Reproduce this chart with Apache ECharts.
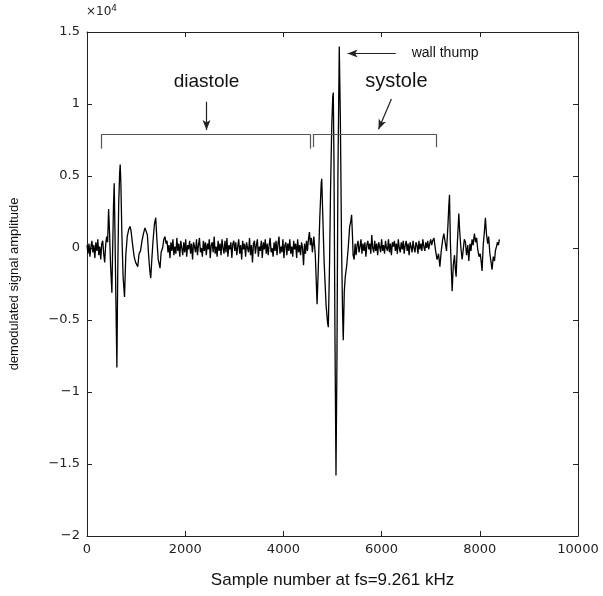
<!DOCTYPE html>
<html>
<head>
<meta charset="utf-8">
<script src="https://cdn.jsdelivr.net/npm/echarts@6/dist/echarts.min.js"></script>
<style>
  html, body { margin: 0; padding: 0; background: #fff; }
  #main { width: 603px; height: 596px; }
</style>
</head>
<body>
<div id="main"></div>
<script>
// amplitude is in units of 10^4, as on the axis
// onset noise + diastolic burst
const diaBurstSamples = [
  0, 20, 40, 60, 80, 100, 120, 140, 160, 180, 200, 220, 240, 260, 280, 300, 320, 340, 360, 380, 400,
  420, 440, 460, 480, 507, 520, 540, 554, 570, 590, 609, 625, 645, 665, 676, 690, 710, 735, 764, 790, 820, 850, 879,
  900, 930, 960, 990, 1034, 1060, 1090, 1120, 1150, 1180, 1203, 1230, 1255, 1280, 1298, 1320, 1345, 1375, 1400, 1425,
  1450, 1470, 1487, 1510, 1540, 1565, 1588, 1610
];
const diaBurstAmp = [
  0.02, -0.04, 0.03, -0.06, 0.01, 0.05, -0.03, 0.02, -0.07, 0.04, -0.02, 0.06, -0.05, 0.01, -0.08, 0.03, 0.05, -0.04, -0.10, 0.02, 0.08,
  0.04, 0.27, 0.10, -0.12, -0.31, -0.05, 0.30, 0.45, 0.10, -0.40, -0.83, -0.20, 0.30, 0.52, 0.58, 0.45, 0.10, -0.20, -0.34, -0.05, 0.08, 0.13, 0.15,
  0.11, 0.02, -0.06, -0.10, -0.13, -0.04, -0.02, 0.05, 0.10, 0.14, 0.15, 0.09, -0.05, -0.16, -0.21, -0.08, 0.05, 0.17, 0.21, 0.05,
  -0.08, -0.11, -0.14, -0.03, 0.00, 0.06, 0.08, 0.03
];

// quiet stretch during diastole
const diaQuietSamples = [
  1630, 1650, 1670, 1690, 1710, 1730, 1750, 1770, 1790, 1810,
  1830, 1850, 1870, 1890, 1910, 1930, 1950, 1970, 1990, 2010,
  2030, 2050, 2070, 2090, 2110, 2130, 2150, 2170, 2190, 2210,
  2230, 2250, 2270, 2290, 2310, 2330, 2350, 2370, 2390, 2410,
  2430, 2450, 2470, 2490, 2510, 2530, 2550, 2570, 2590, 2610,
  2630, 2650, 2670, 2690, 2710, 2730, 2750, 2770, 2790, 2810,
  2830, 2850, 2870, 2890, 2910, 2930, 2950, 2970, 2990, 3010,
  3030, 3050, 3070, 3090, 3110, 3130, 3150, 3170, 3190, 3210,
  3230, 3250, 3270, 3290, 3310, 3330, 3350, 3370, 3390, 3410,
  3430, 3450, 3470, 3490, 3510, 3530, 3550, 3570, 3590, 3610,
  3630, 3650, 3670, 3690, 3710, 3730, 3750, 3770, 3790, 3810,
  3830, 3850, 3870, 3890, 3910, 3930, 3950, 3970, 3990, 4010,
  4030, 4050, 4070, 4090, 4110, 4130, 4150, 4170, 4190, 4210,
  4230, 4250, 4270, 4290, 4310, 4330, 4350, 4370, 4390, 4410,
  4430, 4450, 4470, 4490, 4510, 4530, 4550, 4570, 4590
];
const diaQuietAmp = [
  0.05, -0.03, 0.02, -0.07, 0.04, -0.02, 0.06, -0.05, 0.01, -0.04,
  0.07, -0.02, 0.03, -0.06, 0.05, 0.00, -0.05, 0.04, -0.03, 0.06,
  -0.06, 0.02, -0.01, 0.05, -0.04, 0.03, -0.08, 0.04, 0.01, -0.03,
  0.06, -0.05, 0.02, 0.07, -0.03, 0.00, -0.06, 0.05, -0.02, 0.04,
  -0.05, 0.03, -0.01, 0.06, -0.07, 0.02, 0.04, -0.03, 0.08, -0.04,
  0.01, -0.06, 0.05, -0.02, 0.03, -0.05, 0.06, 0.00, -0.04, 0.05,
  -0.03, 0.07, -0.06, 0.02, -0.01, 0.04, -0.07, 0.03, 0.05, -0.02,
  0.04, -0.05, 0.01, 0.06, -0.04, 0.02, -0.08, 0.05, -0.01, 0.03,
  -0.06, 0.04, 0.00, -0.03, 0.07, -0.05, 0.02, -0.10, 0.03, 0.05,
  -0.04, 0.02, 0.06, -0.06, 0.01, -0.02, 0.05, -0.07, 0.04, -0.01,
  0.06, -0.04, 0.03, -0.05, 0.02, 0.07, -0.03, 0.00, -0.06, 0.04,
  -0.02, 0.05, -0.05, 0.03, 0.08, -0.04, 0.01, -0.03, 0.06, -0.07,
  0.02, 0.04, -0.05, 0.03, -0.02, 0.06, -0.04, 0.01, -0.06, 0.05,
  -0.01, 0.03, -0.07, 0.06, -0.03, 0.02, -0.05, 0.04, 0.00, -0.12,
  0.03, -0.04, 0.05, -0.02, 0.06, 0.11, 0.02, 0.07, -0.03
];

// systolic burst with the wall thump
const sysBurstSamples = [
  4620, 4650, 4686, 4710, 4740, 4770, 4781, 4800, 4830, 4870, 4900, 4915, 4940, 4960, 4985, 5005, 5016, 5030, 5050,
  5071, 5090, 5110, 5138, 5160, 5185, 5205, 5219, 5240, 5260, 5290, 5320, 5350, 5370, 5389, 5405, 5420, 5440
];
const sysBurstAmp = [
  0.08, -0.05, -0.39, -0.15, 0.20, 0.45, 0.48, 0.25, -0.10, -0.40, -0.52, -0.55, -0.10, 0.40, 0.85, 1.05, 1.08, 0.60, -0.60,
  -1.58, -0.80, 0.50, 1.40, 0.90, 0.00, -0.45, -0.64, -0.30, -0.20, -0.12, 0.00, 0.15, 0.18, 0.23, 0.10, -0.05, -0.08
];

// quiet stretch during systole
const sysQuietSamples = [
  5460, 5480, 5500, 5520, 5540, 5560, 5580, 5600, 5620, 5640,
  5660, 5680, 5700, 5720, 5740, 5760, 5780, 5800, 5820, 5840,
  5860, 5880, 5900, 5920, 5940, 5960, 5980, 6000, 6020, 6040,
  6060, 6080, 6100, 6120, 6140, 6160, 6180, 6200, 6220, 6240,
  6260, 6280, 6300, 6320, 6340, 6360, 6380, 6400, 6420, 6440,
  6460, 6480, 6500, 6520, 6540, 6560, 6580, 6600, 6620, 6640,
  6660, 6680, 6700, 6720, 6740, 6760, 6780, 6800, 6820, 6840,
  6860, 6880, 6900, 6920, 6940, 6960, 6980, 7000, 7020, 7040
];
const sysQuietAmp = [
  0.03, -0.05, 0.02, 0.05, -0.03, 0.01, 0.06, -0.04, 0.03, -0.02,
  0.04, -0.06, 0.02, 0.05, -0.01, 0.03, -0.04, 0.09, 0.00, -0.03,
  0.05, -0.02, 0.03, -0.05, 0.04, 0.01, -0.03, 0.06, -0.02, 0.02,
  -0.04, 0.05, 0.00, -0.02, 0.06, -0.03, 0.03, -0.05, 0.04, 0.01,
  0.05, -0.02, 0.03, -0.04, 0.06, 0.00, -0.03, 0.04, -0.01, 0.05,
  -0.04, 0.02, 0.05, -0.02, 0.03, -0.05, 0.04, 0.01, -0.03, 0.05,
  0.00, -0.03, 0.04, 0.02, -0.04, 0.05, -0.01, 0.03, -0.02, 0.06,
  0.01, -0.02, 0.04, 0.00, 0.05, -0.01, 0.03, 0.06, 0.02, 0.05
];

// next beat, start of diastole
const nextBurstSamples = [
  7066, 7100, 7130, 7160, 7187, 7215, 7245, 7268, 7295, 7322, 7350, 7370, 7383, 7400, 7420, 7437, 7460, 7485, 7500, 7518,
  7545, 7573, 7590, 7615, 7640, 7660, 7685, 7708, 7730, 7755, 7776, 7800, 7820, 7843, 7865, 7890, 7915, 7935, 7958, 7985,
  8010, 8030, 8046, 8070, 8095, 8114, 8135, 8160, 8181, 8205, 8230, 8249, 8275, 8300, 8317, 8340, 8360, 8380, 8398
];
const nextBurstAmp = [
  0.07, -0.02, -0.08, -0.04, -0.13, -0.02, 0.06, 0.10, 0.04, -0.02, 0.15, 0.30, 0.37, 0.05, -0.15, -0.30, -0.12, -0.05, -0.14, -0.20,
  0.05, 0.24, 0.12, 0.00, -0.08, -0.02, 0.06, 0.04, -0.05, 0.02, -0.09, 0.03, -0.02, 0.06, 0.02, 0.10, 0.04, 0.07, -0.01, -0.06,
  -0.04, -0.10, -0.16, 0.02, 0.12, 0.21, 0.10, 0.03, 0.08, -0.04, -0.10, -0.15, -0.06, -0.09, -0.02, 0.01, 0.04, 0.02, 0.06
];

const sampleNo = [].concat(diaBurstSamples, diaQuietSamples, sysBurstSamples, sysQuietSamples, nextBurstSamples);
const amplitude = [].concat(diaBurstAmp, diaQuietAmp, sysBurstAmp, sysQuietAmp, nextBurstAmp);
const signal = sampleNo.map((s, i) => [s, amplitude[i]]);

const tickFont = { fontFamily: 'DejaVu Sans', fontSize: 13, color: '#222' };
const fmtY = v => String(v).replace('-', '\u2212');
const frame = { show: true, onZero: false, lineStyle: { color: '#222', width: 1 } };
const ticks = { show: true, inside: true, length: 5, lineStyle: { color: '#222' } };

const myChart = echarts.init(document.getElementById('main'));
myChart.setOption({
  animation: false,
  backgroundColor: '#fff',
  grid: { left: 85, right: 25, top: 32, bottom: 60 },
  graphic: [{
    type: 'text', left: 86, top: 4,
    style: {
      text: '\u00d710{s|4}',
      rich: { s: { fontSize: 9, verticalAlign: 'top', padding: [0, 0, 6, 0], fontFamily: 'DejaVu Sans', fill: '#222' } },
      fontFamily: 'DejaVu Sans', fontSize: 12, fill: '#222'
    }
  }],
  xAxis: [{
    type: 'value', min: 0, max: 10000, interval: 2000,
    name: 'Sample number at fs=9.261 kHz', nameLocation: 'middle', nameGap: 36,
    nameTextStyle: { fontFamily: 'Liberation Sans', fontSize: 17, color: '#111' },
    axisLine: frame, axisTick: ticks,
    axisLabel: Object.assign({ margin: 7, formatter: v => String(v) }, tickFont),
    splitLine: { show: false }
  }, {
    type: 'value', position: 'top', min: 0, max: 10000, interval: 2000,
    axisLine: frame, axisTick: ticks,
    axisLabel: { show: false }, splitLine: { show: false }
  }],
  yAxis: [{
    type: 'value', min: -2, max: 1.5, interval: 0.5,
    name: 'demodulated signal amplitude', nameLocation: 'middle', nameGap: 66, nameRotate: 90,
    nameTextStyle: { fontFamily: 'Liberation Sans', fontSize: 13, color: '#111' },
    axisLine: frame, axisTick: ticks,
    axisLabel: Object.assign({ margin: 7, formatter: fmtY }, tickFont),
    splitLine: { show: false }
  }, {
    type: 'value', position: 'right', min: -2, max: 1.5, interval: 0.5,
    axisLine: frame, axisTick: ticks,
    axisLabel: { show: false }, splitLine: { show: false }
  }],
  series: [{
    type: 'line',
    data: signal,
    showSymbol: false,
    lineStyle: { color: '#000', width: 1.3 },
    markLine: {
      silent: true,
      symbol: ['none', 'none'],
      label: { show: false },
      lineStyle: { color: '#555', width: 1.2, type: 'solid' },
      data: [
        // diastole bracket
        [{ coord: [298, 0.69] }, { coord: [298, 0.79] }],
        [{ coord: [298, 0.79] }, { coord: [4550, 0.79] }],
        [{ coord: [4550, 0.79] }, { coord: [4550, 0.69] }],
        // systole bracket
        [{ coord: [4600, 0.70] }, { coord: [4600, 0.79] }],
        [{ coord: [4600, 0.79] }, { coord: [7120, 0.79] }],
        [{ coord: [7120, 0.79] }, { coord: [7120, 0.70] }],
        // arrows
        [{ coord: [2434, 1.016], symbol: 'none' }, { coord: [2434, 0.82], symbol: 'arrow', symbolSize: [6, 10] }],
        [{ coord: [6200, 1.035], symbol: 'none' }, { coord: [5937, 0.824], symbol: 'arrow', symbolSize: [6, 10] }],
        [{ coord: [6288, 1.35], symbol: 'none' }, { coord: [5308, 1.35], symbol: 'arrow', symbolSize: [6, 10] }]
      ].map((d, i) => i >= 6 ? d.map(p => Object.assign(p, { lineStyle: { color: '#222', width: 1.2 } })) : d)
    },
    markPoint: {
      silent: true,
      symbol: 'circle', symbolSize: 0,
      data: [
        { coord: [2434, 1.155], label: { show: true, position: 'inside', formatter: 'diastole', fontSize: 19, fontFamily: 'Liberation Sans', color: '#111' } },
        { coord: [6302, 1.155], label: { show: true, position: 'inside', formatter: 'systole', fontSize: 20, fontFamily: 'Liberation Sans', color: '#111' } },
        { coord: [6613, 1.35], label: { show: true, position: 'right', distance: 0, formatter: 'wall thump', fontSize: 14, fontFamily: 'Liberation Sans', color: '#111' } }
      ]
    }
  }]
});
</script>
</body>
</html>
